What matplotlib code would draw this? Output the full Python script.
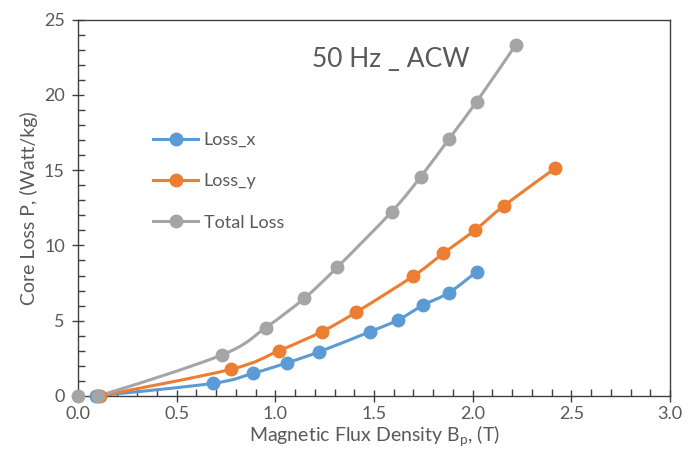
import matplotlib
matplotlib.use("Agg")
import matplotlib.pyplot as plt
from matplotlib.path import Path
from matplotlib.patches import PathPatch
from matplotlib.lines import Line2D
import numpy as np

# ---- data ----
loss_x_b = [0.09, 0.683, 0.888, 1.061, 1.223, 1.48, 1.622, 1.75, 1.88, 2.02]
loss_x_p = [0.0, 0.84, 1.51, 2.21, 2.94, 4.27, 5.05, 6.04, 6.86, 8.25]

loss_y_b = [0.11, 0.774, 1.019, 1.235, 1.409, 1.70, 1.852, 2.012, 2.159, 2.418]
loss_y_p = [0.0, 1.77, 3.01, 4.27, 5.56, 7.97, 9.48, 11.02, 12.64, 15.12]

total_b = [0.0, 0.1, 0.728, 0.951, 1.147, 1.314, 1.59, 1.737, 1.88, 2.02, 2.218]
total_p = [0.0, 0.0, 2.72, 4.54, 6.49, 8.55, 12.24, 14.56, 17.07, 19.54, 23.31]

series_names = ["Loss_x", "Loss_y", "Total Loss"]
x_ticks = [0.0, 0.5, 1.0, 1.5, 2.0, 2.5, 3.0]
y_ticks = [0, 5, 10, 15, 20, 25]

colors = ["#5B9BD5", "#ED7D31", "#A5A5A5"]
txt = "#595959"
font = "Lato"

plt.rcParams['font.family'] = [font, 'DejaVu Sans']

W, H = 699, 454
fig = plt.figure(figsize=(W / 100, H / 100), dpi=100)
ax = fig.add_axes([78 / W, 1 - 396 / H, (670 - 78) / W, (396 - 19.5) / H])


def smooth_path(xs, ys):
    pts = np.column_stack([xs, ys]).astype(float)
    n = len(pts)
    verts = [pts[0]]
    codes = [Path.MOVETO]
    for i in range(n - 1):
        p0 = pts[i - 1] if i > 0 else pts[i]
        p1 = pts[i]
        p2 = pts[i + 1]
        p3 = pts[i + 2] if i + 2 < n else pts[i + 1]
        c1 = p1 + (p2 - p0) / 6.0
        c2 = p2 - (p3 - p1) / 6.0
        verts += [c1, c2, p2]
        codes += [Path.CURVE4] * 3
    return Path(verts, codes)


data = [(loss_x_b, loss_x_p), (loss_y_b, loss_y_p), (total_b, total_p)]
handles = []
for (xs, ys), c, name in zip(data, colors, series_names):
    patch = PathPatch(smooth_path(xs, ys), fill=False, edgecolor=c, lw=2.2,
                      capstyle='round', joinstyle='round', zorder=3)
    ax.add_patch(patch)
    ax.plot(xs, ys, linestyle='none', marker='o', ms=9, color=c, zorder=4,
            clip_on=False)
    handles.append(Line2D([], [], color=c, lw=2.2, marker='o', ms=9))

ax.set_xlim(0, 3.0)
ax.set_ylim(0, 25)
ax.set_xticks(x_ticks)
ax.set_xticklabels([f"{v:.1f}" for v in x_ticks])
ax.set_yticks(y_ticks)
ax.set_yticklabels([str(v) for v in y_ticks])
ax.set_xticks(np.arange(0, 3.0001, 0.1), minor=True)
ax.set_yticks(np.arange(0, 25.001, 1), minor=True)

for s in ax.spines.values():
    s.set_color("#3F3F3F")
    s.set_linewidth(1.0)

ax.tick_params(which='major', direction='inout', length=9, width=1.0,
               color="#3F3F3F", labelsize=13, labelcolor=txt)
ax.tick_params(which='minor', direction='in', length=5, width=1.0,
               color="#3F3F3F")
ax.tick_params(axis='x', which='major', pad=3)
ax.tick_params(axis='y', which='major', pad=5)

ax.set_xlabel("Magnetic Flux Density B$_\\mathregular{p}$, (T)", fontsize=14,
              color=txt, labelpad=1)
ax.set_ylabel("Core Loss P, (Watt/kg)", fontsize=14, color=txt, labelpad=4)

ax.text(0.395, 0.895, "50 Hz _ ACW", transform=ax.transAxes, fontsize=19,
        color=txt, ha='left', va='center')

leg = ax.legend(handles, series_names, loc='upper left',
                bbox_to_anchor=(0.115, 0.72), frameon=False, fontsize=13,
                labelcolor=txt, handlelength=2.5, handletextpad=0.3,
                labelspacing=1.4, borderaxespad=0)

fig.savefig("out.png", dpi=100)
